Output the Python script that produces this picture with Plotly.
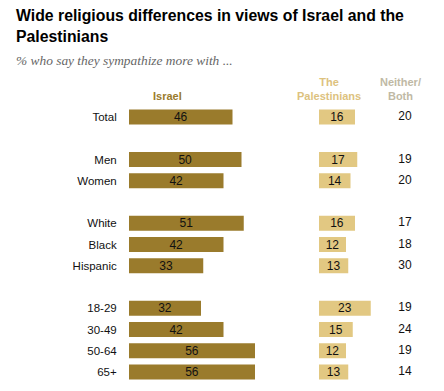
import plotly.graph_objects as go

categories = ["Total", "Men", "Women", "White", "Black", "Hispanic", "18-29", "30-49", "50-64", "65+"]
row_pos = [0, 2, 3, 5, 6, 7, 9, 10, 11, 12]
israel = [46, 50, 42, 51, 42, 33, 32, 42, 56, 56]
palestinians = [16, 17, 14, 16, 12, 13, 23, 15, 12, 13]
neither = [20, 19, 20, 17, 18, 30, 19, 24, 19, 14]

W, H = 444, 391
OFF = 8  # default page body margin in the browser
DARK = "#9A7B2C"
LIGHT = "#E2C882"
GREY_HDR = "#C0B9A5"
FONT = "Liberation Sans, Arial, sans-serif"

px_per_unit = 2.25
x1_start = 129
x1_range = 60
x2_start = 319
x2_range = 30

def fx(p):
    return (p - OFF) / W

def fy(p):
    return 1 - (p - OFF) / H

row_h = 21.25
y0_px = 117
y_top_val, y_bot_val = -1.0, 12.6
top_px = y0_px + row_h * y_top_val
bot_px = y0_px + row_h * y_bot_val

fig = go.Figure()
fig.add_trace(go.Bar(
    y=row_pos, x=israel, orientation="h", width=0.7,
    marker=dict(color=DARK, line=dict(width=0)),
    text=israel, textposition="inside", insidetextanchor="middle", textangle=0,
    textfont=dict(color="#111", size=12, family=FONT), constraintext="none",
    xaxis="x", yaxis="y", hoverinfo="skip",
))
fig.add_trace(go.Bar(
    y=row_pos, x=palestinians, orientation="h", width=0.7,
    marker=dict(color=LIGHT, line=dict(width=0)),
    text=palestinians, textposition="inside", insidetextanchor="middle", textangle=0,
    textfont=dict(color="#111", size=12, family=FONT), constraintext="none",
    xaxis="x2", yaxis="y", hoverinfo="skip",
))
fig.add_trace(go.Scatter(
    y=row_pos, x=[0] * len(row_pos), mode="text", text=[str(v) for v in neither],
    textfont=dict(color="#111", size=12, family=FONT), textposition="middle center",
    xaxis="x3", yaxis="y", hoverinfo="skip",
))

ydomain = [fy(bot_px), fy(top_px)]
fig.update_layout(
    width=W, height=H, margin=dict(l=0, r=0, t=0, b=0),
    paper_bgcolor="white", plot_bgcolor="white", showlegend=False,
    font=dict(family=FONT, color="#111"),
    xaxis=dict(domain=[fx(x1_start), fx(x1_start + x1_range * px_per_unit)], range=[0, x1_range],
               visible=False, fixedrange=True),
    xaxis2=dict(domain=[fx(x2_start), fx(x2_start + x2_range * px_per_unit)], range=[0, x2_range],
                visible=False, anchor="y", fixedrange=True),
    xaxis3=dict(domain=[fx(395), fx(415)], range=[-1, 1], visible=False, anchor="y", fixedrange=True),
    yaxis=dict(domain=ydomain, range=[y_bot_val, y_top_val], tickvals=row_pos, ticktext=categories,
               showgrid=False, zeroline=False, showline=False, ticks="outside", ticklen=9,
               tickcolor="rgba(0,0,0,0)", tickfont=dict(size=11.5, color="#111", family=FONT),
               anchor="x", fixedrange=True),
)

annotations = [
    dict(x=fx(14), y=fy(5), xanchor="left", yanchor="top", align="left",
         text="<b>Wide religious differences in views of Israel and the<br>Palestinians</b>",
         font=dict(size=15.8, color="#000", family=FONT)),
    dict(x=fx(14), y=fy(60), xanchor="left", yanchor="middle",
         text="<i>% who say they sympathize more with ...</i>",
         font=dict(size=13.4, color="#666", family="Liberation Serif, Georgia, serif")),
    dict(x=fx(167), y=fy(96), xanchor="center", yanchor="middle",
         text="<b>Israel</b>", font=dict(size=11, color=DARK, family=FONT)),
    dict(x=fx(329), y=fy(89.5), xanchor="center", yanchor="middle",
         text="<b>The<br>Palestinians</b>", font=dict(size=11, color="#DDC27E", family=FONT)),
    dict(x=fx(400), y=fy(89.5), xanchor="center", yanchor="middle",
         text="<b>Neither/<br>Both</b>", font=dict(size=11, color=GREY_HDR, family=FONT)),
]
for a in annotations:
    a.update(xref="paper", yref="paper", showarrow=False)
fig.update_layout(annotations=annotations)

fig.write_html("out.html")
